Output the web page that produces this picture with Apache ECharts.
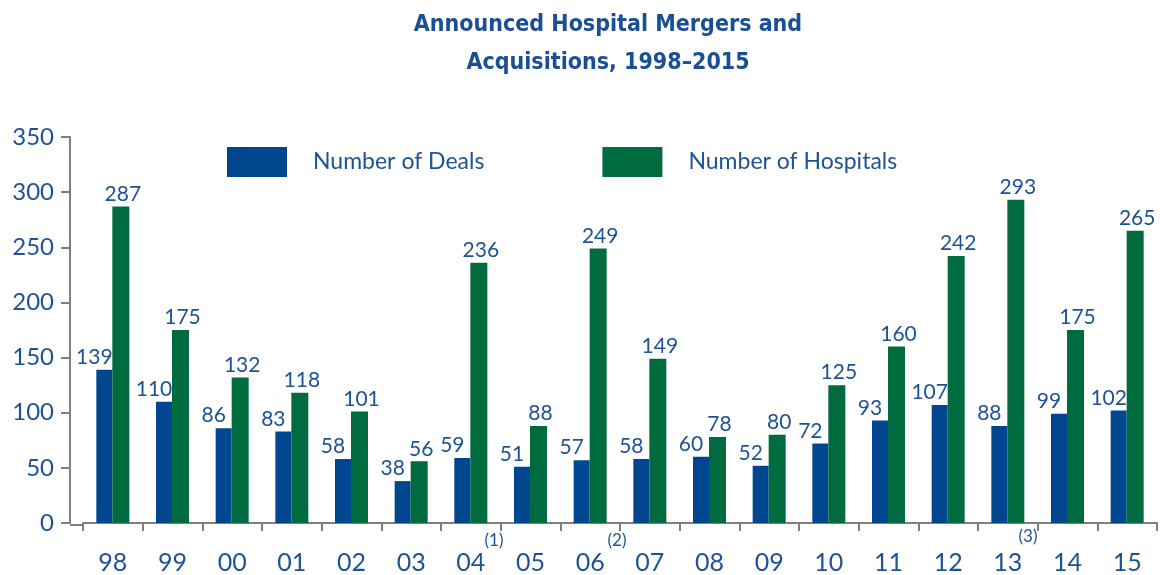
<!DOCTYPE html>
<html>
<head>
<meta charset="utf-8">
<script src="https://cdn.jsdelivr.net/npm/echarts@6/dist/echarts.min.js"></script>
<style>
html,body{margin:0;padding:0;background:#fff;}
#chart{width:1160px;height:575px;}
</style>
</head>
<body>
<div id="chart"></div>
<script>
var categories = ['98','99','00','01','02','03','04','05','06','07','08','09','10','11','12','13','14','15'];
var deals = [139,110,86,83,58,38,59,51,57,58,60,52,72,93,107,88,99,102];
var hospitals = [287,175,132,118,101,56,236,88,249,149,78,80,125,160,242,293,175,265];
var yTicks = [0,50,100,150,200,250,300,350];
var footnotes = [
  {text:'(1)', x:494, y:541},
  {text:'(2)', x:617, y:541},
  {text:'(3)', x:1028, y:537}
];

var BLUE = '#00478f', GREEN = '#006b3f', TXT = '#1d5395', AX = '#7f7f7f';
var FONT = 'Lato, "Open Sans", sans-serif';

var chart = echarts.init(document.getElementById('chart'), null, {renderer:'canvas'});
var graphics = [
  {type:'line', shape:{x1:70,y1:525,x2:84,y2:525}, style:{stroke:AX, lineWidth:2}, silent:true}
];
footnotes.forEach(function(f){
  graphics.push({type:'text', x:f.x, y:f.y, style:{text:f.text, fill:TXT, font:'17px '+FONT, textAlign:'center', textVerticalAlign:'middle'}});
});

chart.setOption({
  animation:false,
  title:{
    text:'Announced Hospital Mergers and\nAcquisitions, 1998\u20132015',
    left:603, top:1, textAlign:'center',
    textStyle:{color:'#1a4f96', fontSize:23, fontWeight:'bold', fontFamily:'"Liberation Sans Narrow","DejaVu Sans Condensed",sans-serif', lineHeight:38}
  },
  legend:{
    data:['Number of Deals','Number of Hospitals'],
    left:222, top:142, itemWidth:60, itemHeight:30, itemGap:118,
    icon:'rect',
    textStyle:{color:TXT, fontSize:23, fontFamily:FONT, padding:[0,0,0,21]}
  },
  grid:{left:83, right:3, top:137, bottom:50},
  xAxis:{
    type:'category', data:categories,
    axisLine:{lineStyle:{color:AX, width:2}},
    axisTick:{show:true, length:8, lineStyle:{color:AX, width:2}, alignWithLabel:false},
    axisLabel:{color:TXT, fontSize:25, fontFamily:FONT, margin:27}
  },
  yAxis:{
    type:'value', min:0, max:350, interval:50, offset:13,
    axisLine:{show:true, lineStyle:{color:AX, width:2}},
    axisTick:{show:true, inside:false, length:9, lineStyle:{color:AX, width:2}},
    axisLabel:{color:TXT, fontSize:24, fontFamily:FONT, margin:16},
    splitLine:{show:false}
  },
  series:[
    {name:'Number of Deals', type:'bar', data:deals, barWidth:16, barGap:'0%',
     itemStyle:{color:BLUE},
     label:{show:true, position:'top', distance:2, offset:[-10,0], color:TXT, fontSize:21, fontFamily:FONT}},
    {name:'Number of Hospitals', type:'bar', data:hospitals, barWidth:17, barGap:'0%',
     itemStyle:{color:GREEN},
     label:{show:true, position:'top', distance:2, offset:[2,0], color:TXT, fontSize:21, fontFamily:FONT}}
  ],
  graphic:graphics
});
</script>
</body>
</html>
